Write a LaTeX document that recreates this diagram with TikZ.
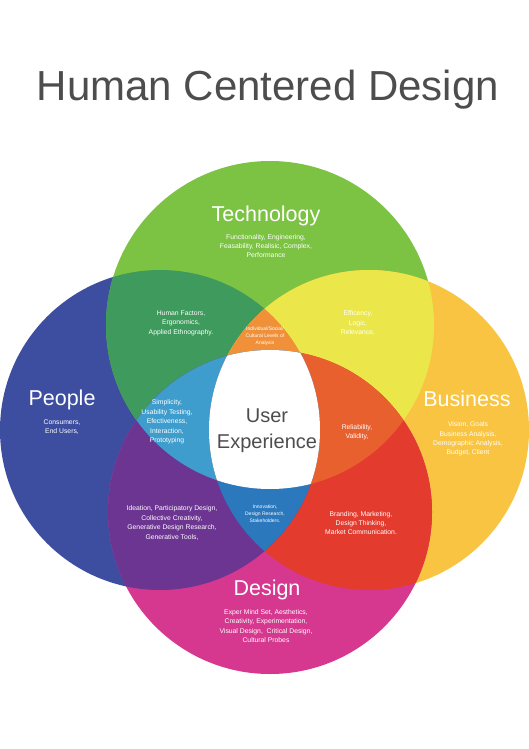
\documentclass[tikz,border=0pt]{standalone}
\usepackage{fontspec}
\setmainfont{Liberation Sans}

\definecolor{peopleblue}{HTML}{3D4EA1}
\definecolor{techgreen}{HTML}{7CC243}
\definecolor{bizorange}{HTML}{F8C441}
\definecolor{designpink}{HTML}{D6388F}
\definecolor{tpgreen}{HTML}{3E9A5D}
\definecolor{tbyellow}{HTML}{EBE74B}
\definecolor{bdred}{HTML}{E33B2E}
\definecolor{pdpurple}{HTML}{6C3592}
\definecolor{tpborange}{HTML}{F0913A}
\definecolor{tpdblue}{HTML}{3E9DCD}
\definecolor{tbdred}{HTML}{E9602F}
\definecolor{pbdblue}{HTML}{2B78BD}
\definecolor{titlegray}{HTML}{4D4D4D}

\newcommand{\techcirc}{(270,325) circle (164pt)}
\newcommand{\peoplecirc}{(160,430) circle (160pt)}
\newcommand{\bizcirc}{(369,430) circle (160pt)}
\newcommand{\designcirc}{(270,512) circle (162pt)}

\tikzset{
  heading/.style={text=white, font=\fontsize{21.5}{24}\selectfont},
  note/.style={text=white, align=center, font=\fontsize{6.8}{9.4}\selectfont},
  tinynote/.style={text=white, align=center, font=\fontsize{5}{7}\selectfont},
}

\begin{document}
\begin{tikzpicture}[x=1pt, y=-1pt]
  \useasboundingbox (0,0) rectangle (529,749);

  \node[text=titlegray, font=\fontsize{42}{48}\selectfont] (title) at (268, 90) {Human Centered Design};

  % the four circles
  \fill[peopleblue] \peoplecirc;
  \fill[techgreen] \techcirc;
  \fill[bizorange] \bizcirc;
  \fill[designpink] \designcirc;

  % two at a time
  \begin{scope}
    \clip \techcirc;
    \fill[tpgreen] \peoplecirc;
    \fill[tbyellow] \bizcirc;
  \end{scope}
  \begin{scope}
    \clip \designcirc;
    \fill[bdred] \bizcirc;
    \fill[pdpurple] \peoplecirc;
  \end{scope}

  % three at a time
  \begin{scope}
    \clip \techcirc;
    \clip \peoplecirc;
    \fill[tpborange] \bizcirc;
    \fill[tpdblue] \designcirc;
  \end{scope}
  \begin{scope}
    \clip \designcirc;
    \clip \bizcirc;
    \fill[tbdred] \techcirc;
    \fill[pbdblue] \peoplecirc;
  \end{scope}

  % all four
  \begin{scope}
    \clip \techcirc;
    \clip \peoplecirc;
    \clip \bizcirc;
    \fill[white] \designcirc;
  \end{scope}

  % headings
  \node[heading] (tech) at (266, 216) {Technology};
  \node[heading] (people) at (62, 400) {People};
  \node[heading] (biz) at (467, 399) {Business};
  \node[heading] (design) at (267, 590) {Design};
  \node[text=titlegray, align=center, font=\fontsize{20}{26}\selectfont] (ux) at (267, 431) {User\\Experience};

  % notes
  \node[note] (technote) at (266, 246) {Functionality, Engineering,\\Feasability, Realisic, Complex,\\Performance};
  \node[note] (peoplenote) at (62, 427) {Consumers,\\End Users,};
  \node[note] (biznote) at (468, 439) {Vision, Goals\\Business Analysis,\\Demographic Analysis,\\Budget, Client};
  \node[note] (designnote) at (266, 626) {Exper Mind Set, Aesthetics,\\Creativity, Experimentation,\\Visual Design,\ \ Critical Design,\\Cultural Probes};
  \node[note] (tpnote) at (181, 323) {Human Factors,\\Ergonomics,\\Applied Ethnography.};
  \node[note] (tbnote) at (358, 323) {Efficency,\\Logic,\\Relevance,};
  \node[tinynote] (tpbnote) at (265, 336) {Individual/Social/\\Cultural Levels of\\Analysis};
  \node[note] (tpdnote) at (167, 422) {Simplicity,\\Usability Testing,\\Efectiveness,\\Interaction,\\Prototyping};
  \node[note] (tbdnote) at (357, 432) {Reliability,\\Validity,};
  \node[note] (pdnote) at (172, 523) {Ideation, Participatory Design,\\Collective Creativity,\\Generative Design Research,\\Generative Tools,};
  \node[tinynote] (pbdnote) at (265, 514) {Innovation,\\Design Research,\\Stakeholders.};
  \node[note] (bdnote) at (361, 523) {Branding, Marketing,\\Design Thinking,\\Market Communication.};
\end{tikzpicture}
\end{document}
